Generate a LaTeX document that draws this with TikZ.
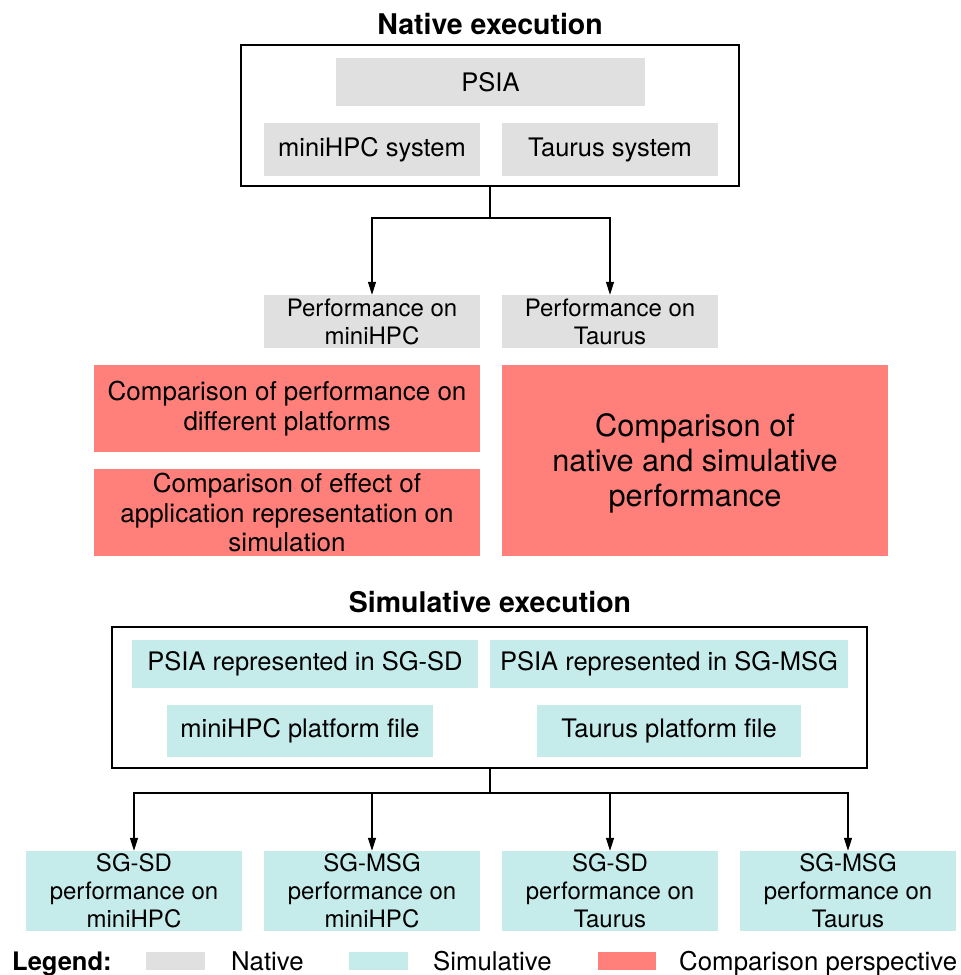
\documentclass[tikz,border=0pt]{standalone}
\usepackage{fontspec}
\setmainfont{TeX Gyre Heros}
\usetikzlibrary{arrows.meta}
\definecolor{natg}{RGB}{224,224,224}
\definecolor{simc}{RGB}{197,236,235}
\definecolor{cmpr}{RGB}{255,128,122}
\begin{document}
\begin{tikzpicture}[x=1pt,y=-1pt,
  base/.style={inner sep=0pt, align=center, font=\fontsize{24}{28}\selectfont},
  natbox/.style={base, fill=natg},
  simbox/.style={base, fill=simc},
  cmpbox/.style={base, fill=cmpr, font=\fontsize{26}{29.5}\selectfont},
  mid/.style={font=\fontsize{25.5}{29}\selectfont},
  frame/.style={draw=black, line width=1.2pt, inner sep=0pt},
  title/.style={font=\fontsize{28.5}{32}\selectfont\bfseries, inner sep=0pt},
  conn/.style={line width=1.2pt},
  arr/.style={line width=1.2pt, -{Triangle[length=13pt,width=8pt]}},
  legtext/.style={inner sep=0pt, anchor=base west, font=\fontsize{25.8}{29}\selectfont}
]
\useasboundingbox (0,0) rectangle (961,975);

% Native execution
\node[title] (tnat) at (490,24) {Native execution};
\node[frame, minimum width=498pt, minimum height=141pt] (nat) at (490,115.5) {};
\node[natbox, mid, minimum width=309pt, minimum height=48pt] (psia) at (490.5,82) {PSIA};
\node[natbox, mid, minimum width=216pt, minimum height=53pt] (mhs) at (372,149.5) {miniHPC system};
\node[natbox, mid, minimum width=216pt, minimum height=53pt] (tas) at (610,149.5) {Taurus system};

\node[natbox, minimum width=216pt, minimum height=53pt] (pm) at (372,321.5) {Performance on\\miniHPC};
\node[natbox, minimum width=216pt, minimum height=53pt] (pt) at (610,321.5) {Performance on\\Taurus};

\coordinate (j1) at (490,218);
\draw[conn] (nat.south) -- (j1);
\draw[arr] (j1) -| (pm.north);
\draw[arr] (j1) -| (pt.north);

% Comparison boxes
\node[cmpbox, minimum width=386pt, minimum height=87pt] (cp) at (287,408.5) {Comparison of performance on\\different platforms};
\node[cmpbox, minimum width=386pt, minimum height=87pt] (ce) at (287,512.5) {Comparison of effect of\\application representation on\\simulation};
\node[cmpbox, minimum width=386pt, minimum height=191pt, font=\fontsize{30.7}{35}\selectfont] (cn) at (695,460.5) {\rule{0pt}{28.7pt}Comparison of\\native and simulative\\performance};

% Simulative execution
\node[title] (tsim) at (490,602) {Simulative execution};
\node[frame, minimum width=755pt, minimum height=141pt] (sim) at (489.5,697.5) {};
\node[simbox, mid, minimum width=346pt, minimum height=48pt] (psd) at (305,664) {PSIA represented in SG-SD};
\node[simbox, mid, minimum width=358pt, minimum height=48pt] (pmsg) at (669,664) {PSIA represented in SG-MSG};
\node[simbox, mid, minimum width=266pt, minimum height=52pt] (mpf) at (300,731) {miniHPC platform file};
\node[simbox, mid, minimum width=264pt, minimum height=52pt] (tpf) at (669,731) {Taurus platform file};

\node[simbox, minimum width=216pt, minimum height=80pt] (b1) at (134,891) {SG-SD\\performance on\\miniHPC};
\node[simbox, minimum width=216pt, minimum height=80pt] (b2) at (372,891) {SG-MSG\\performance on\\miniHPC};
\node[simbox, minimum width=216pt, minimum height=80pt] (b3) at (610,891) {SG-SD\\performance on\\Taurus};
\node[simbox, minimum width=216pt, minimum height=80pt] (b4) at (848,891) {SG-MSG\\performance on\\Taurus};

\coordinate (j2) at (490,793);
\draw[conn] (sim.south -| j2) -- (j2);
\draw[arr] (j2) -| (b1.north);
\draw[arr] (j2) -| (b2.north);
\draw[arr] (j2) -| (b3.north);
\draw[arr] (j2) -| (b4.north);

% Legend
\node[inner sep=0pt, anchor=base west, font=\fontsize{25.5}{29}\selectfont\bfseries] (leg) at (12,970) {Legend:};
\node[fill=natg, inner sep=0pt, minimum width=59pt, minimum height=18pt] (lg1) at (175.5,961) {};
\node[legtext] (lt1) at (231,970) {Native};
\node[fill=simc, inner sep=0pt, minimum width=59pt, minimum height=18pt] (lg2) at (378.5,961) {};
\node[legtext] (lt2) at (433,970) {Simulative};
\node[fill=cmpr, inner sep=0pt, minimum width=58pt, minimum height=18pt] (lg3) at (627,961) {};
\node[legtext] (lt3) at (679,970) {Comparison perspective};
\end{tikzpicture}
\end{document}
